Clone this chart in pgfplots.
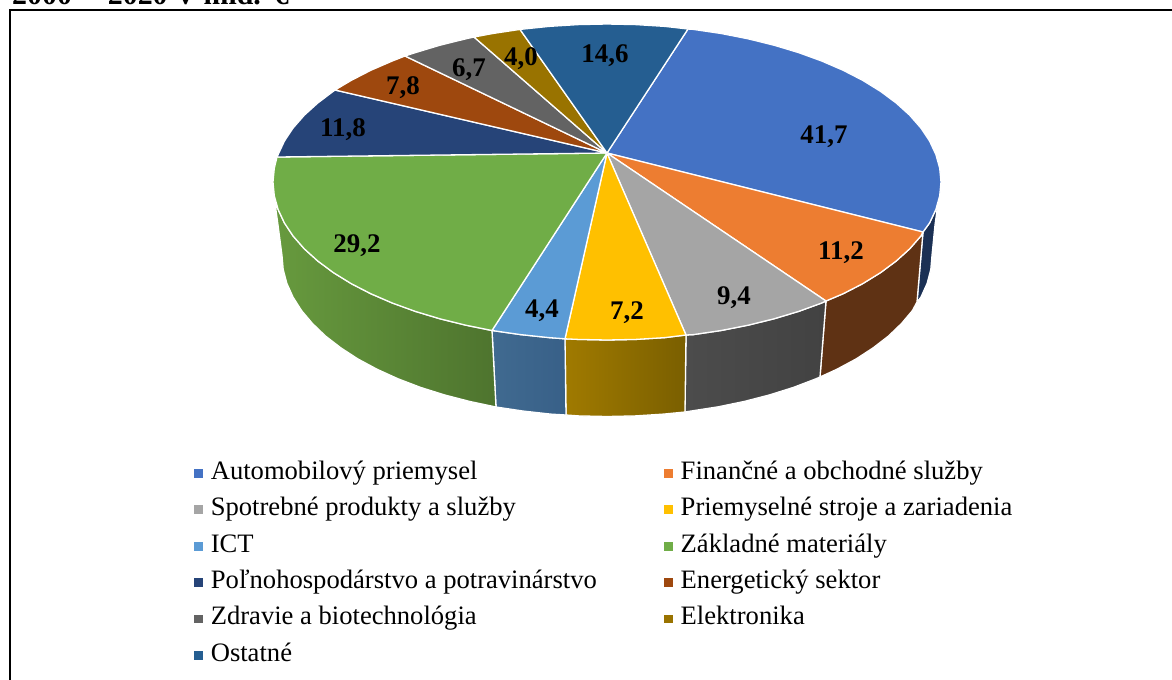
\documentclass[border=0pt]{standalone}
\usepackage{pgfplots}
\pgfplotsset{compat=1.18}
\usepackage{fontspec}
\setmainfont{Liberation Serif}
\definecolor{cA}{HTML}{4472C4}
\definecolor{cB}{HTML}{ED7D31}
\definecolor{cC}{HTML}{A5A5A5}
\definecolor{cD}{HTML}{FFC000}
\definecolor{cE}{HTML}{5B9BD5}
\definecolor{cF}{HTML}{70AD47}
\definecolor{cG}{HTML}{264478}
\definecolor{cH}{HTML}{9E480E}
\definecolor{cI}{HTML}{636363}
\definecolor{cJ}{HTML}{997300}
\definecolor{cK}{HTML}{255E91}
\pgfplotsset{
  slice/.style={draw=white, line width=1.3bp, line join=round, no markers},
  side/.style={draw=white, line width=1.3bp, line join=round, no markers, forget plot},
}
\tikzset{dl/.style={font=\fontsize{27}{30}\selectfont\bfseries, inner sep=0pt}}
\begin{document}
\begin{tikzpicture}
\path[use as bounding box] (0,0) rectangle (1172bp,680bp);
\begin{axis}[
  at={(0,0)}, anchor=south west,
  scale only axis, width=1172bp, height=680bp,
  xmin=0, xmax=1172, ymin=0, ymax=680, y dir=reverse,
  hide axis, clip=true,
  legend columns=2,
  legend cell align=left,
  legend image code/.code={\path[#1, draw=none] (0bp,-4.4bp) rectangle (8.8bp,4.4bp);},
  legend style={at={(axis cs:194,462.3)}, anchor=north west, draw=none, fill=none,
    inner sep=0pt, outer sep=0pt,
    font=\fontsize{26.7}{30}\selectfont,
    nodes={inner sep=0pt, text height=17bp, text depth=5bp},
    /tikz/row sep=14.4bp,
    /tikz/column 1/.style={column sep=8bp},
    /tikz/column 2/.style={column sep=67bp},
    /tikz/column 3/.style={column sep=8bp},
  },
]
% frame
\addplot[black, line width=2bp, no markers, forget plot] coordinates {(10,680) (10,9.5) (1172,9.5)};
% side walls
\addplot[side, fill=cG!70!black] coordinates {(938,203) (935.9,209.4) (929.6,222.9) (923,232) (917,302) (920.9,297.2) (927.1,283.5) (930.8,269.5) (932,255.5) (935,225) (938,203)};
\addplot[side, fill={rgb,255:red,95;green,50;blue,20}] coordinates {(923,232) (920.9,236) (909.7,248.8) (896.2,261) (880.6,272.6) (862.8,283.6) (843.2,293.7) (826,301) (820,377) (836.8,369.3) (856,359) (873.2,347.8) (888.5,336) (901.5,323.5) (912.4,310.6) (917,302) (923,232)};
\addplot[side, left color={rgb,255:red,76;green,76;blue,76}, right color={rgb,255:red,66;green,66;blue,66}] coordinates {(826,301) (821.7,303) (798.6,311.4) (774,318.8) (748.1,325.2) (721.2,330.5) (693.4,334.6) (686,335) (685,412) (691.1,411) (718.2,406.8) (744.4,401.4) (769.5,394.9) (793.4,387.4) (815.9,378.8) (820,377) (826,301)};
\addplot[side, left color={rgb,255:red,160;green,122;blue,0}, right color={rgb,255:red,122;green,95;blue,0}] coordinates {(686,335) (665,337.6) (636.1,339.4) (607,340) (577.9,339.4) (565,338.8) (566,415) (578.7,415.9) (607,416.5) (635.3,415.9) (663.4,414.1) (685,412) (686,335)};
\addplot[side, left color={rgb,255:red,64;green,106;blue,144}, right color={rgb,255:red,56;green,96;blue,136}] coordinates {(565,338.8) (549,337.6) (520.6,334.6) (492,330.5) (496,407) (522.9,411) (550.6,414.1) (566,415) (565,338.8)};
\addplot[side, left color={rgb,255:red,103;green,154;blue,62}, right color={rgb,255:red,78;green,116;blue,46}] coordinates {(492,330.5) (465.9,325.2) (440,318.8) (415.4,311.4) (392.3,303) (370.8,293.7) (351.2,283.6) (333.4,272.6) (317.8,261) (304.3,248.8) (293.1,236) (284.4,222.9) (278.1,209.4) (275,203) (278,225) (282,255.5) (283.2,269.5) (286.9,283.5) (293.1,297.2) (301.6,310.6) (312.5,323.5) (325.5,336) (340.8,347.8) (358,359) (377.2,369.3) (398.1,378.8) (420.6,387.4) (444.5,394.9) (469.6,401.4) (496,407) (492,330.5)};
% top slices
\addplot[slice, fill=cA] coordinates {(607,153) (688,29) (693.4,29.4) (721.2,33.5) (748.1,38.8) (774,45.2) (798.6,52.6) (821.7,61) (843.2,70.3) (862.8,80.4) (880.6,91.4) (896.2,103) (909.7,115.2) (920.9,128) (929.6,141.1) (935.9,154.6) (939.7,168.2) (941,182) (939.7,195.8) (935.9,209.4) (929.6,222.9) (923,232) (607,153)};
\addlegendentry{Automobilový priemysel}
\addplot[slice, fill=cB] coordinates {(607,153) (923,232) (920.9,236) (909.7,248.8) (896.2,261) (880.6,272.6) (862.8,283.6) (843.2,293.7) (826,301) (607,153)};
\addlegendentry{Finančné a obchodné služby}
\addplot[slice, fill=cC] coordinates {(607,153) (826,301) (821.7,303) (798.6,311.4) (774,318.8) (748.1,325.2) (721.2,330.5) (693.4,334.6) (686,335) (607,153)};
\addlegendentry{Spotrebné produkty a služby}
\addplot[slice, fill=cD] coordinates {(607,153) (686,335) (665,337.6) (636.1,339.4) (607,340) (577.9,339.4) (565,338.8) (607,153)};
\addlegendentry{Priemyselné stroje a zariadenia}
\addplot[slice, fill=cE] coordinates {(607,153) (565,338.8) (549,337.6) (520.6,334.6) (492,330.5) (607,153)};
\addlegendentry{ICT}
\addplot[slice, fill=cF] coordinates {(607,153) (492,330.5) (465.9,325.2) (440,318.8) (415.4,311.4) (392.3,303) (370.8,293.7) (351.2,283.6) (333.4,272.6) (317.8,261) (304.3,248.8) (293.1,236) (284.4,222.9) (278.1,209.4) (274.3,195.8) (273,182) (274.3,168.2) (277,157) (607,153)};
\addlegendentry{Základné materiály}
\addplot[slice, fill=cG] coordinates {(607,153) (277,157) (278.1,154.6) (284.4,141.1) (293.1,128) (304.3,115.2) (317.8,103) (335,90) (607,153)};
\addlegendentry{Poľnohospodárstvo a potravinárstvo}
\addplot[slice, fill=cH] coordinates {(607,153) (335,90) (351.2,80.4) (370.8,70.3) (392.3,61) (405,56) (607,153)};
\addlegendentry{Energetický sektor}
\addplot[slice, fill=cI] coordinates {(607,153) (405,56) (415.4,52.6) (440,45.2) (465.9,38.8) (474,37) (607,153)};
\addlegendentry{Zdravie a biotechnológia}
\addplot[slice, fill=cJ] coordinates {(607,153) (474,37) (492.8,33.5) (520,29.4) (607,153)};
\addlegendentry{Elektronika}
\addplot[slice, fill=cK] coordinates {(607,153) (520,29.4) (549,26.4) (577.9,24.6) (607,24) (636.1,24.6) (665,26.4) (688,29) (607,153)};
\addlegendentry{Ostatné}
% data labels
\node[dl] at (axis cs:824,137) {41,7};
\node[dl] at (axis cs:841,253) {11,2};
\node[dl] at (axis cs:734,298) {9,4};
\node[dl] at (axis cs:627,313) {7,2};
\node[dl] at (axis cs:542,311) {4,4};
\node[dl] at (axis cs:357,246) {29,2};
\node[dl] at (axis cs:343,130) {11,8};
\node[dl] at (axis cs:403,88) {7,8};
\node[dl] at (axis cs:469,70) {6,7};
\node[dl] at (axis cs:521,59) {4,0};
\node[dl] at (axis cs:605,56) {14,6};
\node[anchor=base west, inner sep=0pt, font=\fontsize{30}{32}\selectfont\bfseries] at (axis cs:12,4) {\spaceskip=10.5bp 2000 – 2020 v mld. €};
\end{axis}
\end{tikzpicture}
\end{document}
